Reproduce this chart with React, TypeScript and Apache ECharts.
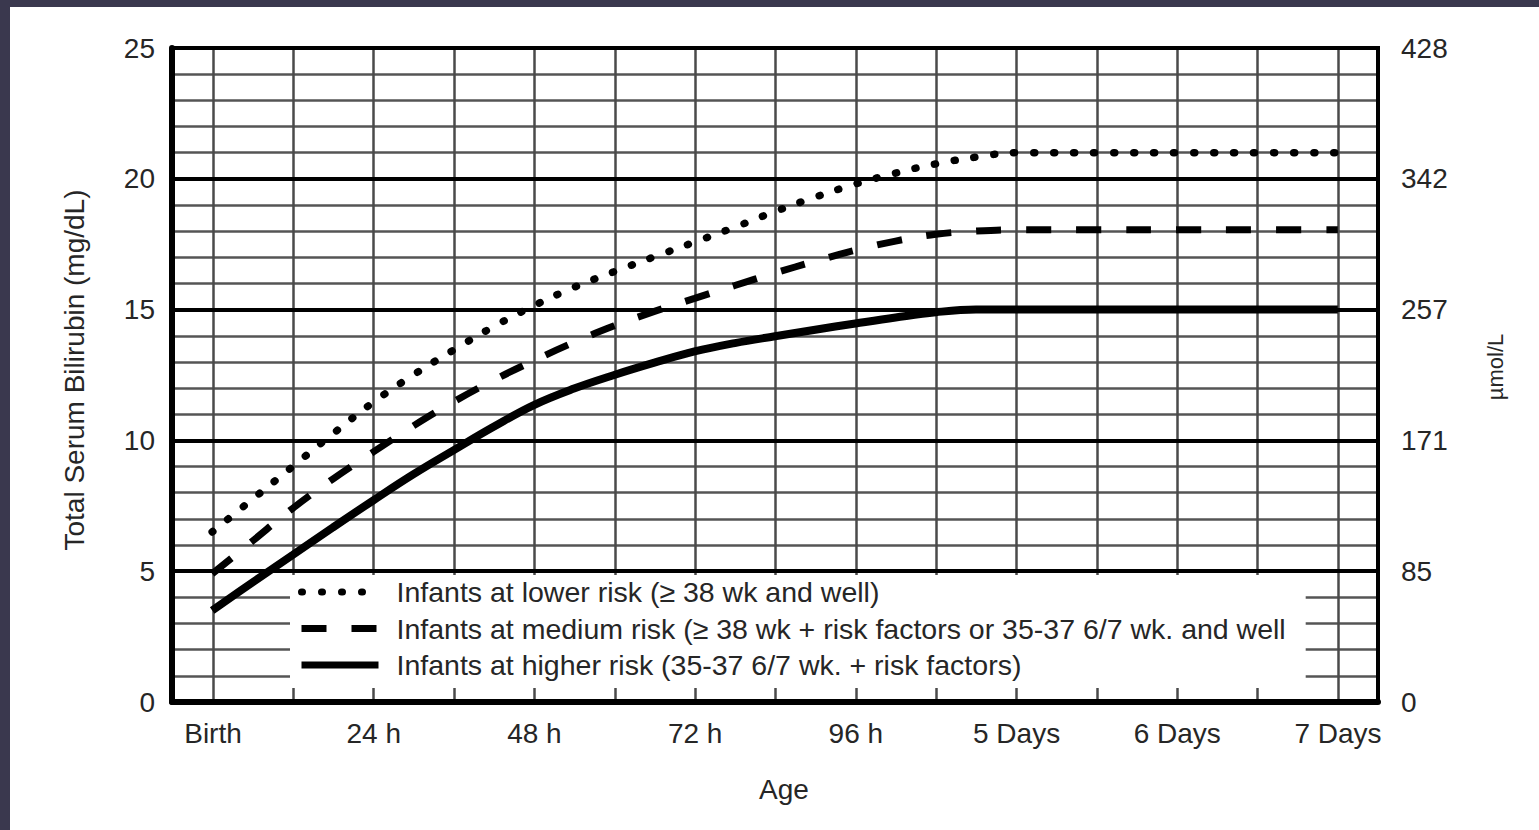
import React, { useEffect, useRef } from 'react';
import * as echarts from 'echarts';

const FONT = '"Liberation Sans", Arial, Helvetica, sans-serif';

// Age in hours after birth
const HOURS = [0, 6, 12, 18, 24, 30, 36, 42, 48, 54, 60, 66, 72, 78, 84, 90, 96, 102, 108, 114, 120, 132, 144, 156, 168];
// Total serum bilirubin (mg/dL)
const LOWER_RISK = [6.5, 7.75, 9.0, 10.25, 11.45, 12.5, 13.45, 14.35, 15.15, 15.85, 16.45, 17.02, 17.58, 18.15, 18.75, 19.3, 19.8, 20.22, 20.57, 20.83, 21.0, 21.0, 21.0, 21.0, 21.0];
const MEDIUM_RISK = [4.9, 6.15, 7.4, 8.52, 9.55, 10.55, 11.47, 12.3, 13.05, 13.75, 14.38, 14.93, 15.43, 15.92, 16.4, 16.85, 17.27, 17.62, 17.88, 18.0, 18.05, 18.05, 18.05, 18.05, 18.05];
const HIGHER_RISK = [3.5, 4.57, 5.62, 6.67, 7.7, 8.7, 9.62, 10.52, 11.35, 11.98, 12.5, 12.97, 13.4, 13.72, 13.98, 14.23, 14.47, 14.7, 14.9, 15.0, 15.0, 15.0, 15.0, 15.0, 15.0];

const SERIES_NAMES = [
  'Infants at lower risk (\u2265 38 wk and well)',
  'Infants at medium risk (\u2265 38 wk + risk factors or 35-37 6/7 wk. and well',
  'Infants at higher risk (35-37 6/7 wk. + risk factors)',
];

const X_TICK_LABELS = ['Birth', '24 h', '48 h', '72 h', '96 h', '5 Days', '6 Days', '7 Days'];
const UMOL_TICK_LABELS = ['0', '85', '171', '257', '342', '428'];

const Y_TITLE = 'Total Serum Bilirubin (mg/dL)';
const Y2_TITLE = '\u00b5mol/L';
const X_TITLE = 'Age';

export default function App() {
  const ref = useRef<HTMLDivElement>(null);

  useEffect(() => {
    if (!ref.current) return;
    const chart = echarts.init(ref.current, undefined, { renderer: 'svg' });

    const pairs = (vals: number[]) => HOURS.map((h, i) => [h, vals[i]]);
    const styles = [
      { width: 7.5, type: [1, 19], cap: 'round' },
      { width: 7, type: [25, 25], cap: 'butt' },
      { width: 8, type: 'solid', cap: 'butt' },
    ];
    const values = [LOWER_RISK, MEDIUM_RISK, HIGHER_RISK];

    const option: any = {
      animation: false,
      backgroundColor: '#ffffff',
      textStyle: { fontFamily: FONT },
      grid: [
        {
          left: 172, right: 161, top: 48, bottom: 128,
          show: true, borderColor: '#000', borderWidth: 4, backgroundColor: 'rgba(0,0,0,0)',
          containLabel: false, outerBoundsMode: 'none',
        },
        {
          left: 213, right: 201, top: 48, bottom: 128,
          show: false, containLabel: false, outerBoundsMode: 'none',
        },
      ],
      xAxis: [
        {
          type: 'value', gridIndex: 0, min: -6, max: 174,
          axisLine: { show: true, onZero: false, lineStyle: { color: '#000', width: 6 } },
          axisTick: { show: false }, axisLabel: { show: false }, splitLine: { show: false },
        },
        {
          type: 'value', gridIndex: 1, min: 0, max: 168, interval: 12,
          axisLine: { show: false, onZero: false }, axisTick: { show: false },
          splitLine: { show: true, lineStyle: { color: '#4a4a4a', width: 2.5 } },
          axisLabel: {
            margin: 17, fontSize: 28, color: '#262626', fontFamily: FONT,
            formatter: (v: number) => (v % 24 === 0 ? X_TICK_LABELS[Math.round(v / 24)] : ''),
          },
        },
      ],
      yAxis: [
        {
          type: 'value', gridIndex: 0, position: 'left', min: 0, max: 25, interval: 1,
          axisLine: { show: true, onZero: false, lineStyle: { color: '#000', width: 6 } },
          axisTick: { show: false },
          axisLabel: {
            margin: 17, fontSize: 28, color: '#262626', fontFamily: FONT,
            formatter: (v: number) => (v % 5 === 0 ? String(v) : ''),
          },
          splitLine: { show: true, lineStyle: { color: '#555', width: 2.5 } },
        },
        {
          type: 'value', gridIndex: 0, position: 'right', min: 0, max: 25, interval: 5, z: 1,
          axisLine: { show: true, onZero: false, lineStyle: { color: '#000', width: 4 } },
          axisTick: { show: false },
          axisLabel: {
            margin: 23, fontSize: 28, color: '#262626', fontFamily: FONT,
            formatter: (v: number) => UMOL_TICK_LABELS[Math.round(v / 5)] ?? '',
          },
          splitLine: { show: true, lineStyle: { color: '#000', width: 4 } },
        },
        {
          type: 'value', gridIndex: 1, min: 0, max: 25, show: false,
        },
      ],
      legend: {
        orient: 'vertical', left: 290, top: 575,
        backgroundColor: '#ffffff', padding: [2, 20, 8, 8], itemGap: 6.5,
        itemWidth: 77, itemHeight: 14,
        selectedMode: false,
        itemStyle: { color: 'rgba(0,0,0,0)', borderColor: 'rgba(0,0,0,0)', borderWidth: 0, opacity: 0 },
        lineStyle: { width: 7 },
        textStyle: { fontSize: 28.5, color: '#262626', lineHeight: 30, padding: [0, 0, 0, 13], fontFamily: FONT },
        data: SERIES_NAMES,
      },
      series: SERIES_NAMES.map((name, i) => ({
        name, type: 'line', xAxisIndex: 0, yAxisIndex: 0,
        data: pairs(values[i]),
        smooth: 0.4, symbol: 'none',
        lineStyle: { color: '#000', ...styles[i] },
        z: 2,
      })),
      graphic: [
        { type: 'rect', shape: { x: 0, y: 0, width: 1539, height: 7 }, style: { fill: '#3a384e' } },
        { type: 'rect', shape: { x: 0, y: 0, width: 10, height: 830 }, style: { fill: '#3a384e' } },
        {
          type: 'text', x: 74, y: 370, rotation: Math.PI / 2,
          style: { text: Y_TITLE, fontSize: 28, fill: '#262626', align: 'center', verticalAlign: 'middle', fontFamily: FONT },
        },
        {
          type: 'text', x: 1495, y: 367, rotation: Math.PI / 2,
          style: { text: Y2_TITLE, fontSize: 22, fill: '#262626', align: 'center', verticalAlign: 'middle', fontFamily: FONT },
        },
        {
          type: 'text', x: 784, y: 789,
          style: { text: X_TITLE, fontSize: 28, fill: '#262626', align: 'center', verticalAlign: 'middle', fontFamily: FONT },
        },
      ],
    };

    chart.setOption(option);
    return () => chart.dispose();
  }, []);

  return (
    <div
      ref={ref}
      style={{ position: 'absolute', left: 0, top: 0, width: 1539, height: 830, background: '#fff' }}
    />
  );
}
